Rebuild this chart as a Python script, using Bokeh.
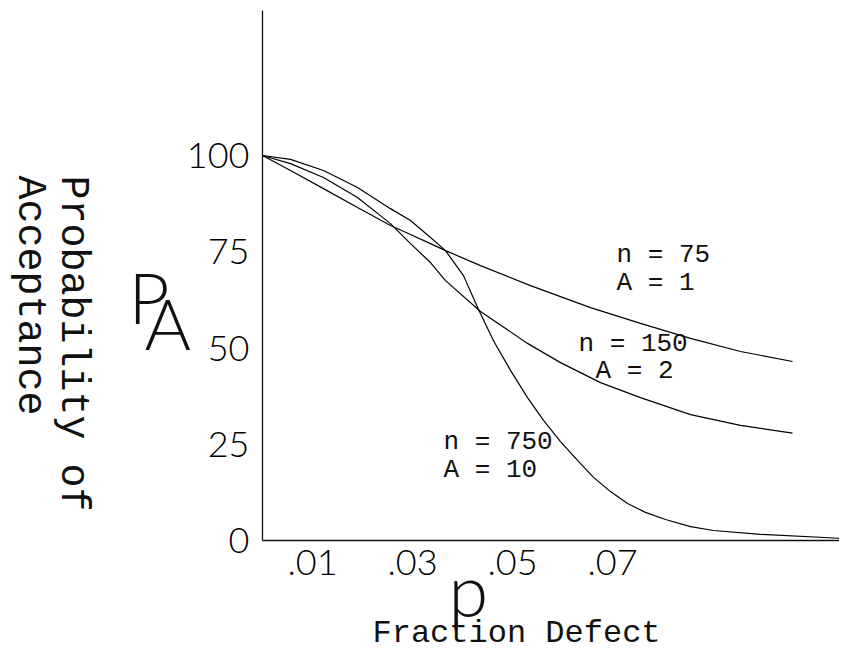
from bokeh.plotting import figure
from bokeh.models import Range1d, FixedTicker, CustomJSTickFormatter, Label, LinearAxis
from bokeh.embed import file_html
from bokeh.resources import INLINE

# ---- data ----
n75_p = [0, 0.0056, 0.0122, 0.019, 0.0256, 0.0296, 0.0336, 0.0366, 0.0436, 0.0536,
         0.0656, 0.0756, 0.0856, 0.0956, 0.106]
n75_pa = [100, 96.1, 91.4, 86.5, 81.8, 79.5, 77.1, 75.3, 71.4, 66.2,
          60.5, 56.4, 52.5, 49.1, 46.5]

n150_p = [0, 0.0056, 0.0122, 0.019, 0.0256, 0.0296, 0.0336, 0.0366, 0.0436, 0.053,
          0.0596, 0.0676, 0.0756, 0.0856, 0.0956, 0.106]
n150_pa = [100, 97.9, 94.3, 89.1, 82.3, 77.1, 72.2, 67.5, 59.5, 51.2,
           46.2, 41.0, 37.1, 32.7, 29.9, 27.9]

n750_p = [0, 0.0056, 0.0122, 0.019, 0.0256, 0.0296, 0.0336, 0.0366, 0.0402, 0.0432,
          0.0462, 0.0496, 0.053, 0.0562, 0.0596, 0.063, 0.0662, 0.0696, 0.073, 0.0766,
          0.0806, 0.0856, 0.0902, 0.0996, 0.1166]
n750_pa = [100, 99.0, 96.1, 91.7, 86.2, 83.1, 78.7, 75.3, 68.8, 60.0,
           51.9, 44.2, 37.1, 31.2, 25.7, 20.8, 16.4, 12.7, 9.6, 7.3,
           5.45, 3.6, 2.6, 1.6, 0.5]

x_ticks = [0.01, 0.03, 0.05, 0.07]
y_ticks = [0, 25, 50, 75, 100]
p_max = 0.1166
pa_max = 137.66

curve_labels = [("n = 75", "A = 1"), ("n = 150", "A = 2"), ("n = 750", "A = 10")]

# ---- figure: the frame fills the canvas, axes are pinned at p = 0 and PA = 0 ----
p = figure(width=839, height=655, output_backend="svg", toolbar_location=None,
           x_axis_type=None, y_axis_type=None,
           x_range=Range1d(-0.0524, 0.1154), y_range=Range1d(-29.87, 140.26),
           min_border_left=0, min_border_right=0, min_border_top=0,
           min_border_bottom=0)
p.outline_line_color = None
p.grid.visible = False
p.background_fill_color = "white"
p.border_fill_color = "white"

TICK_FONT = "Lato Light"
WORD_FONT = "Liberation Mono"

xax = LinearAxis(fixed_location=0, bounds=(0, p_max))
yax = LinearAxis(fixed_location=0, bounds=(0, pa_max))
p.add_layout(xax, "below")
p.add_layout(yax, "left")

for ax in (xax, yax):
    ax.axis_line_color = "#111111"
    ax.axis_line_width = 1.3
    ax.major_tick_line_color = None
    ax.minor_tick_line_color = None
    ax.major_label_text_font = TICK_FONT
    ax.major_label_text_font_size = "36px"
    ax.major_label_text_color = "black"

xax.ticker = FixedTicker(ticks=x_ticks)
xax.formatter = CustomJSTickFormatter(code="return tick.toFixed(2).replace(/^0/, '');")
xax.major_label_standoff = 3
yax.ticker = FixedTicker(ticks=y_ticks)
yax.major_label_standoff = 7

for xs, ys in ((n75_p, n75_pa), (n150_p, n150_pa), (n750_p, n750_pa)):
    p.line(xs, ys, line_color="black", line_width=1.2)


def add_text(x, y, txt, font, size, angle=0.0):
    p.add_layout(Label(x=x, y=y, text=txt, text_font=font,
                       text_font_size=size, text_color="#111111", angle=angle,
                       text_align="left", text_baseline="middle"))


# curve annotations
label_pos = [((0.0708, 74.2), (0.0708, 67.0)),
             ((0.0632, 51.0), (0.0666, 43.9)),
             ((0.0362, 25.7), (0.0362, 18.3))]
for (t1, t2), (a, b) in zip(curve_labels, label_pos):
    add_text(a[0], a[1], t1, WORD_FONT, "26px")
    add_text(b[0], b[1], t2, WORD_FONT, "26px")

# axis titles
add_text(-0.0268, 63.4, "P", TICK_FONT, "71px")
add_text(-0.0236, 56.5, "A", TICK_FONT, "71px")
add_text(-0.038, 94.8, "Probability of", WORD_FONT, "40px", angle=-1.5707963)
add_text(-0.0466, 94.8, "Acceptance", WORD_FONT, "40px", angle=-1.5707963)
add_text(0.0372, -12.5, "p", TICK_FONT, "72px")
add_text(0.022, -24.2, "Fraction Defect", WORD_FONT, "32px")

open("out.html", "w").write(file_html(p, INLINE))
